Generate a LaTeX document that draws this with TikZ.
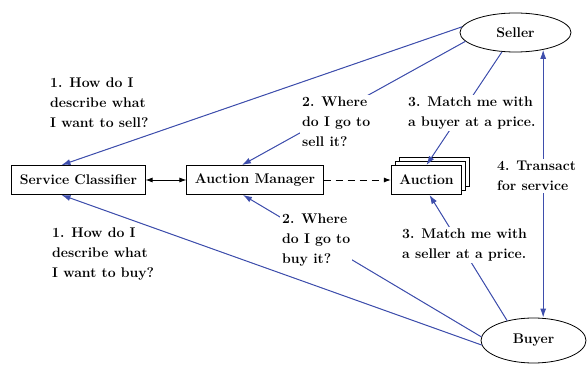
\documentclass[tikz,border=0pt]{standalone}
\usetikzlibrary{shapes.geometric,shadows,arrows.meta}
\definecolor{msgblue}{RGB}{62,78,172}
\begin{document}
\begin{tikzpicture}[x=1pt, y=-1pt,
    font=\fontsize{14}{20}\selectfont\bfseries,
    comp/.style={rectangle, draw, line width=0.9pt, fill=white,
                 minimum height=29pt, inner xsep=8pt},
    party/.style={ellipse, draw, line width=0.8pt, inner sep=0pt},
    note/.style={align=left, inner sep=0pt},
    cutnote/.style={note, fill=white, inner sep=2pt},
    msg/.style={-{Latex[length=9pt,width=6pt]}, draw=msgblue, fill=msgblue,
                line width=1pt},
    link/.style={line width=0.9pt, {Latex[length=7pt,width=5pt]}-{Latex[length=7pt,width=5pt]}}
]
    \useasboundingbox (0,0) rectangle (587,366);

    % components and parties
    \node[comp] (sc) at (78.5,180) {Service Classifier};
    \node[comp] (am) at (255,180) {Auction Manager};
    \node[comp, double copy shadow={shadow xshift=4pt, shadow yshift=4pt}]
        (auction) at (426.5,180) {Auction};
    \node[party, minimum width=111pt, minimum height=39pt] (seller) at (515.5,32.5) {Seller};
    \node[party, minimum width=105pt, minimum height=45pt] (buyer) at (533.5,340.5) {Buyer};

    % internal links
    \draw[link] (sc) -- (am);
    \draw[line width=0.9pt, dash pattern=on 7pt off 5pt,
          -{Latex[length=7pt,width=5pt]}] (am) -- (auction);

    % seller side
    \draw[msg] (seller.174) -- ([xshift=-17pt]sc.north);
    \draw[msg] (seller.190) -- ([xshift=-13pt]am.north);
    \draw[msg] (seller.235) -- (auction.north);
    % buyer side
    \draw[msg] (buyer.185) -- ([xshift=-17pt]sc.south);
    \draw[msg] (buyer.176) -- ([xshift=-12pt]am.south);
    \draw[msg] (buyer.143) -- ([xshift=3pt]auction.south);
    % transaction
    \draw[msg, {Latex[length=9pt,width=6pt]}-{Latex[length=9pt,width=6pt]}]
        (seller.-32) -- (seller.-32 |- buyer.north);

    % questions
    \node[note, anchor=west] (sellhow) at (50,103) {1. How do I\\describe what\\I want to sell?};
    \node[note, anchor=west] (buyhow) at (52,254) {1. How do I\\describe what\\I want to buy?};
    \node[cutnote, anchor=west] (sellwhere) at (300,122) {2. Where\\do I go to\\sell it?};
    \node[cutnote, anchor=west] (sellmatch) at (406,113) {3. Match me with\\a buyer at a price.};
    \node[cutnote, anchor=west] (buywhere) at (280,240) {2. Where\\do I go to\\buy it?};
    \node[cutnote, anchor=west] (buymatch) at (400,245) {3. Match me with\\a seller at a price.};
    \node[cutnote, anchor=west] (transact) at (495,176) {4. Transact\\for service};
\end{tikzpicture}
\end{document}
